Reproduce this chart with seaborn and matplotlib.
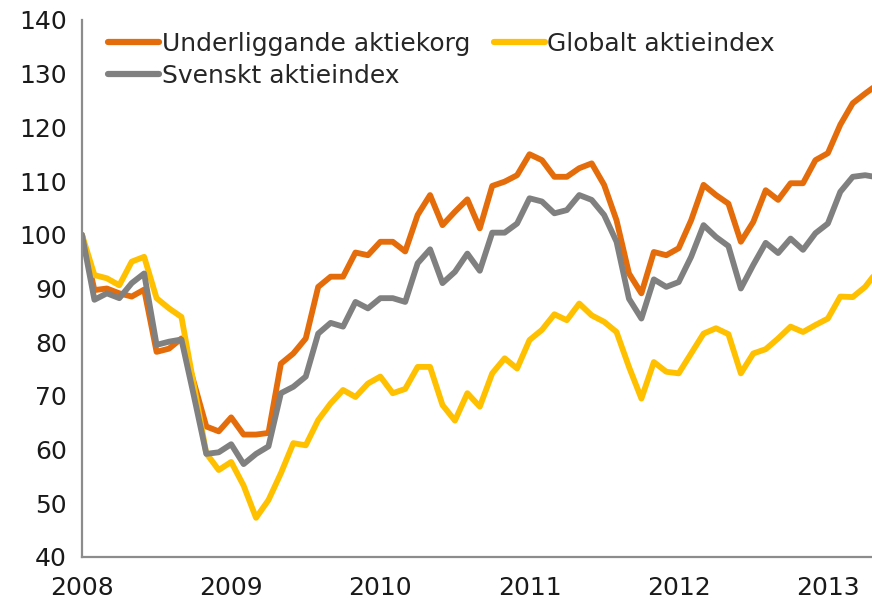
import numpy as np
import pandas as pd
import matplotlib
matplotlib.use("Agg")
import matplotlib.pyplot as plt
import seaborn as sns

# monthly index values, Jan 2008 onwards
underliggande = [100, 89.7, 90.0, 89.1, 88.5, 89.8, 78.2, 78.8, 80.7, 72.5,
                 64.3, 63.4, 66.0, 62.8, 62.8, 63.1, 76.0, 77.9, 80.7, 90.3,
                 92.2, 92.2, 96.7, 96.2, 98.7, 98.7, 96.9, 103.7, 107.4, 101.8,
                 104.3, 106.6, 101.2, 109.1, 109.9, 111.1, 115.0, 113.9, 110.8, 110.8,
                 112.4, 113.3, 109.3, 102.7, 92.8, 89.1, 96.8, 96.2, 97.5, 102.7,
                 109.3, 107.4, 105.8, 98.7, 102.4, 108.3, 106.5, 109.6, 109.6, 113.9,
                 115.2, 120.5, 124.5, 126.3, 128.0]
globalt = [100, 92.5, 91.9, 90.6, 95.0, 95.9, 88.2, 86.3, 84.7, 72.0,
           59.3, 56.2, 57.7, 53.3, 47.3, 50.6, 55.6, 61.2, 60.8, 65.5,
           68.6, 71.1, 69.8, 72.3, 73.6, 70.5, 71.3, 75.4, 75.4, 68.3,
           65.4, 70.5, 68.0, 74.2, 77.0, 75.1, 80.4, 82.3, 85.2, 84.1,
           87.2, 85.0, 83.8, 81.9, 75.4, 69.5, 76.3, 74.5, 74.2, 77.9,
           81.6, 82.6, 81.5, 74.2, 77.9, 78.7, 80.7, 82.9, 81.9, 83.2,
           84.4, 88.5, 88.4, 90.3, 93.3]
svenskt = [100, 87.9, 89.1, 88.2, 91.0, 92.8, 79.5, 80.1, 80.5, 70.0,
           59.2, 59.5, 61.0, 57.3, 59.2, 60.6, 70.5, 71.7, 73.6, 81.6,
           83.6, 82.9, 87.5, 86.3, 88.2, 88.2, 87.5, 94.7, 97.3, 91.0,
           93.1, 96.5, 93.3, 100.4, 100.4, 102.1, 106.8, 106.2, 104.0, 104.6,
           107.4, 106.5, 103.7, 98.7, 88.1, 84.4, 91.7, 90.3, 91.2, 95.9,
           101.8, 99.6, 97.9, 90.0, 94.4, 98.5, 96.6, 99.3, 97.2, 100.3,
           102.1, 108.0, 110.8, 111.1, 110.7]

series_names = ["Underliggande aktiekorg", "Globalt aktieindex", "Svenskt aktieindex"]
colors = ["#E46C0A", "#FFC000", "#808080"]
years = [2008, 2009, 2010, 2011, 2012, 2013]

n = len(underliggande)
t = 2008 + np.arange(n) / 12.0
df = pd.DataFrame({
    "t": np.tile(t, 3),
    "value": underliggande + globalt + svenskt,
    "serie": np.repeat(series_names, n),
})

sns.set_style("white")
plt.rcParams["font.family"] = ["DejaVu Sans"]

fig = plt.figure(figsize=(8.72, 6.10), dpi=100)
ax = fig.add_axes([82 / 872, 1 - 557 / 610, 1 - 82 / 872, (557 - 20) / 610])

sns.lineplot(data=df, x="t", y="value", hue="serie", hue_order=series_names,
             palette=colors, linewidth=4.2, ax=ax, legend=True)

ax.set_xlim(2008, 2008 + 63.55 / 12)
ax.set_ylim(40, 140)
ax.set_yticks(range(40, 141, 10))
ax.set_xticks(years)
ax.set_xticklabels([str(y) for y in years])
ax.set_xlabel("")
ax.set_ylabel("")

for s in ["top", "right"]:
    ax.spines[s].set_visible(False)
for s in ["left", "bottom"]:
    ax.spines[s].set_color("#8C8C8C")
    ax.spines[s].set_linewidth(1.6)
ax.tick_params(axis="both", which="both", direction="out", length=6, width=1.5,
               color="#8C8C8C", labelsize=18, labelcolor="#1A1A1A", pad=5)
ax.tick_params(axis="x", pad=8)

# matplotlib fills legend columns first: order so rows read U, G / S
handles, labels = ax.get_legend_handles_labels()
order = [0, 2, 1]
ax.legend([handles[i] for i in order], [labels[i] for i in order], ncol=2,
          loc="upper left", bbox_to_anchor=(0.02, 0.996),
          frameon=False, fontsize=18, handlelength=2.05, handletextpad=0.1,
          columnspacing=0.95, labelspacing=0.3, borderaxespad=0.0)
for line in ax.get_legend().get_lines():
    line.set_linewidth(4.5)

fig.savefig("out.png", dpi=100)
